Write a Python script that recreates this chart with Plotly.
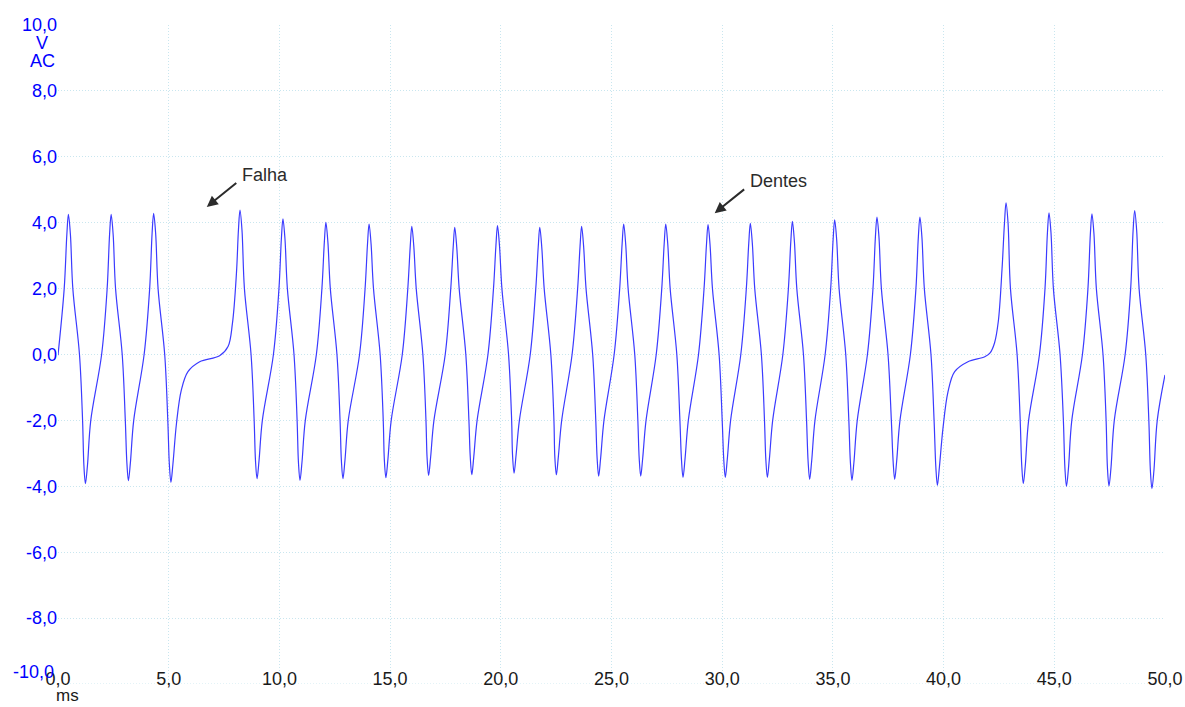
import plotly.graph_objects as go

# Crank sensor trace, time in ms and voltage in V, split into sections
lead_t = [0.00, 0.28, 0.40]
lead_v = [-0.02, 2.0, 3.65]

teeth_a_t = [0.47, 0.56, 0.67, 0.97, 1.11, 1.17, 1.24, 1.33, 1.48, 1.97, 2.22, 2.33,
             2.40, 2.49, 2.60, 2.90, 3.04, 3.11, 3.18, 3.27, 3.42, 3.89, 4.14, 4.25,
             4.32, 4.41, 4.52, 4.82, 4.96, 5.03, 5.10]
teeth_a_v = [4.25, 3.65, 2.0, 0.0, -2.0, -3.37, -3.92, -3.37, -2.0, 0.0, 2.0, 3.65,
             4.25, 3.65, 2.0, 0.0, -2.0, -3.28, -3.83, -3.28, -2.0, 0.0, 2.0, 3.68,
             4.28, 3.68, 2.0, 0.0, -2.0, -3.33, -3.88]

gap_a_t = [5.19, 5.35, 5.57, 5.87, 6.40, 7.30, 7.68, 7.88, 8.06, 8.15]
gap_a_v = [-3.33, -2.10, -1.08, -0.52, -0.22, -0.04, 0.24, 0.95, 2.47, 3.78]

teeth_b_t = [8.22, 8.31, 8.42, 8.72, 8.86, 8.92, 8.99, 9.08, 9.23, 9.73, 9.98, 10.09,
             10.16, 10.25, 10.36, 10.66, 10.80, 10.86, 10.93, 11.02, 11.17, 11.67, 11.92, 12.03,
             12.10, 12.19, 12.30, 12.60, 12.74, 12.80, 12.87, 12.96, 13.11, 13.62, 13.87, 13.98,
             14.05, 14.14, 14.25, 14.55, 14.69, 14.74, 14.81, 14.90, 15.05, 15.55, 15.80, 15.91,
             15.98, 16.07, 16.18, 16.48, 16.62, 16.67, 16.74, 16.83, 16.98, 17.49, 17.74, 17.85,
             17.92, 18.01, 18.12, 18.42, 18.56, 18.62, 18.69, 18.78, 18.93, 19.42, 19.67, 19.78,
             19.85, 19.94, 20.05, 20.35, 20.49, 20.53, 20.60, 20.69, 20.84, 21.33, 21.58, 21.69,
             21.76, 21.85, 21.96, 22.26, 22.40, 22.44, 22.51, 22.60, 22.75, 23.22, 23.47, 23.58,
             23.65, 23.74, 23.85, 24.15, 24.29, 24.35, 24.42, 24.51, 24.66, 25.12, 25.37, 25.48,
             25.55, 25.64, 25.75, 26.05, 26.19, 26.25, 26.32, 26.41, 26.56, 27.02, 27.27, 27.38,
             27.45, 27.54, 27.65, 27.95, 28.09, 28.16, 28.23, 28.32, 28.47, 28.93, 29.18, 29.29,
             29.36, 29.45, 29.56, 29.86, 30.00, 30.07, 30.14, 30.23, 30.38, 30.84, 31.09, 31.20,
             31.27, 31.36, 31.47, 31.77, 31.91, 31.97, 32.04, 32.13, 32.28, 32.74, 32.99, 33.10,
             33.17, 33.26, 33.37, 33.67, 33.81, 33.88, 33.95, 34.04, 34.19, 34.65, 34.90, 35.01,
             35.08, 35.17, 35.28, 35.58, 35.72, 35.79, 35.86, 35.95, 36.10, 36.56, 36.81, 36.92,
             36.99, 37.08, 37.19, 37.49, 37.64, 37.72, 37.79, 37.88, 38.03, 38.50, 38.75, 38.86,
             38.93, 39.02, 39.13, 39.43, 39.57, 39.65, 39.72]
teeth_b_v = [4.38, 3.78, 2.0, 0.0, -2.0, -3.22, -3.77, -3.22, -2.0, 0.0, 2.0, 3.52,
             4.12, 3.52, 2.0, 0.0, -2.0, -3.27, -3.82, -3.27, -2.0, 0.0, 2.0, 3.41,
             4.01, 3.41, 2.0, 0.0, -2.0, -3.22, -3.77, -3.22, -2.0, 0.0, 2.0, 3.36,
             3.96, 3.36, 2.0, 0.0, -2.0, -3.19, -3.74, -3.19, -2.0, 0.0, 2.0, 3.29,
             3.89, 3.29, 2.0, 0.0, -2.0, -3.12, -3.67, -3.12, -2.0, 0.0, 2.0, 3.26,
             3.86, 3.26, 2.0, 0.0, -2.0, -3.10, -3.65, -3.10, -2.0, 0.0, 2.0, 3.31,
             3.91, 3.31, 2.0, 0.0, -2.0, -3.05, -3.60, -3.05, -2.0, 0.0, 2.0, 3.26,
             3.86, 3.26, 2.0, 0.0, -2.0, -3.10, -3.65, -3.10, -2.0, 0.0, 2.0, 3.29,
             3.89, 3.29, 2.0, 0.0, -2.0, -3.14, -3.69, -3.14, -2.0, 0.0, 2.0, 3.36,
             3.96, 3.36, 2.0, 0.0, -2.0, -3.14, -3.69, -3.14, -2.0, 0.0, 2.0, 3.36,
             3.96, 3.36, 2.0, 0.0, -2.0, -3.18, -3.73, -3.18, -2.0, 0.0, 2.0, 3.34,
             3.94, 3.34, 2.0, 0.0, -2.0, -3.18, -3.73, -3.18, -2.0, 0.0, 2.0, 3.38,
             3.98, 3.38, 2.0, 0.0, -2.0, -3.18, -3.73, -3.18, -2.0, 0.0, 2.0, 3.44,
             4.04, 3.44, 2.0, 0.0, -2.0, -3.24, -3.79, -3.24, -2.0, 0.0, 2.0, 3.49,
             4.09, 3.49, 2.0, 0.0, -2.0, -3.27, -3.82, -3.27, -2.0, 0.0, 2.0, 3.57,
             4.17, 3.57, 2.0, 0.0, -2.0, -3.24, -3.79, -3.24, -2.0, 0.0, 2.0, 3.57,
             4.17, 3.57, 2.0, 0.0, -2.0, -3.42, -3.97]

gap_b_t = [39.81, 39.97, 40.20, 40.50, 41.10, 41.86, 42.10, 42.30, 42.47, 42.64, 42.75]
gap_b_v = [-3.42, -2.25, -1.13, -0.52, -0.22, -0.07, 0.05, 0.35, 1.0, 2.6, 4.0]

teeth_c_t = [42.82, 42.91, 43.02, 43.32, 43.46, 43.53, 43.60, 43.69, 43.84, 44.33, 44.58, 44.69,
             44.76, 44.85, 44.96, 45.26, 45.41, 45.48, 45.55, 45.64, 45.79, 46.27, 46.52, 46.63,
             46.70, 46.79, 46.90, 47.20, 47.34, 47.40, 47.47, 47.56, 47.71, 48.20, 48.45, 48.56,
             48.63, 48.72, 48.83, 49.13, 49.27, 49.34, 49.41, 49.50, 49.65, 50.00]
teeth_c_v = [4.60, 4.00, 2.0, 0.0, -2.0, -3.37, -3.92, -3.37, -2.0, 0.0, 2.0, 3.70,
             4.30, 3.70, 2.0, 0.0, -2.0, -3.45, -4.00, -3.45, -2.0, 0.0, 2.0, 3.67,
             4.27, 3.67, 2.0, 0.0, -2.0, -3.44, -3.99, -3.44, -2.0, 0.0, 2.0, 3.77,
             4.37, 3.77, 2.0, 0.0, -2.0, -3.52, -4.07, -3.52, -2.0, -0.62]

# Axis ticks (the bottom voltage label is placed separately, lifted clear of the time labels)
x_tick_vals = [0, 5, 10, 15, 20, 25, 30, 35, 40, 45, 50]
x_tick_text = ["0,0", "5,0", "10,0", "15,0", "20,0", "25,0", "30,0", "35,0", "40,0", "45,0", "50,0"]
y_tick_vals = [-8, -6, -4, -2, 0, 2, 4, 6, 8, 10]
y_tick_text = ["-8,0", "-6,0", "-4,0", "-2,0", "0,0", "2,0", "4,0", "6,0", "8,0", "10,0"]
y_bottom_val = -10
y_bottom_text = "-10,0"

# Callouts: label, arrow tip (ms, V)
callout_labels = ["Falha", "Dentes"]
callout_tip_t = [6.72, 29.66]
callout_tip_v = [4.48, 4.29]

time_ms = lead_t + teeth_a_t + gap_a_t + teeth_b_t + gap_b_t + teeth_c_t
volts = lead_v + teeth_a_v + gap_a_v + teeth_b_v + gap_b_v + teeth_c_v

FONT = "Liberation Sans, Arial, sans-serif"
FSIZE = 18
GRID = "#c9e6ef"
BLUE = "#0000ff"
INK = "#1a1a1a"

fig = go.Figure()
fig.add_trace(go.Scatter(
    x=time_ms, y=volts, mode="lines",
    line=dict(color="#3b3bff", width=1.2, shape="spline", smoothing=1.0),
    hoverinfo="skip",
))

annotations = []
for label, tt, vv in zip(callout_labels, callout_tip_t, callout_tip_v):
    annotations.append(dict(
        x=tt, y=vv, xref="x", yref="y", text="", showarrow=True,
        ax=31, ay=-25, arrowhead=2, arrowsize=1.1, arrowwidth=2,
        arrowcolor="#2b2b2b", standoff=0,
    ))
    annotations.append(dict(
        x=tt, y=vv, xref="x", yref="y", text=label, showarrow=False,
        xanchor="left", yanchor="middle", xshift=33, yshift=32,
        font=dict(family=FONT, size=FSIZE, color="#2b2b2b"),
    ))

# Lifted bottom voltage label
annotations.append(dict(x=0, y=y_bottom_val, xref="paper", yref="y", text=y_bottom_text,
                        showarrow=False, xanchor="right", yanchor="middle",
                        xshift=-2, yshift=12,
                        font=dict(family=FONT, size=FSIZE, color=BLUE)))

# Unit labels under the top voltage tick and the first time tick
annotations.append(dict(x=0, y=1, xref="paper", yref="paper", text="V", showarrow=False,
                        xanchor="center", yanchor="top", xshift=-16, yshift=-6,
                        font=dict(family=FONT, size=FSIZE, color=BLUE)))
annotations.append(dict(x=0, y=1, xref="paper", yref="paper", text="AC", showarrow=False,
                        xanchor="center", yanchor="top", xshift=-16, yshift=-24,
                        font=dict(family=FONT, size=FSIZE, color=BLUE)))
annotations.append(dict(x=0, y=0, xref="paper", yref="paper", text="ms", showarrow=False,
                        xanchor="left", yanchor="bottom", xshift=-4, yshift=-23,
                        font=dict(family=FONT, size=17, color=INK)))

fig.update_layout(
    width=1185, height=707,
    margin=dict(l=58, r=20, t=25, b=23),
    paper_bgcolor="white", plot_bgcolor="white",
    showlegend=False,
    font=dict(family=FONT),
    annotations=annotations,
    xaxis=dict(
        range=[0, 50], tickvals=x_tick_vals, ticktext=x_tick_text,
        showgrid=True, gridcolor=GRID, griddash="1px,2px", gridwidth=1,
        zeroline=False, showline=False, ticks="", automargin=False,
        tickfont=dict(family=FONT, size=FSIZE, color=INK),
        ticklabelstandoff=-18,
    ),
    yaxis=dict(
        range=[-10, 10], tickvals=y_tick_vals, ticktext=y_tick_text,
        showgrid=True, gridcolor=GRID, griddash="1px,2px", gridwidth=1,
        zeroline=False, showline=False, ticks="", automargin=False,
        tickfont=dict(family=FONT, size=FSIZE, color=BLUE),
        ticklabelstandoff=0,
    ),
    shapes=[dict(type="line", xref="paper", yref="y", x0=0, x1=1, y0=-10, y1=-10,
                 line=dict(color=GRID, width=1, dash="1px,2px"), layer="below")],
)

fig.write_html("out.html")
